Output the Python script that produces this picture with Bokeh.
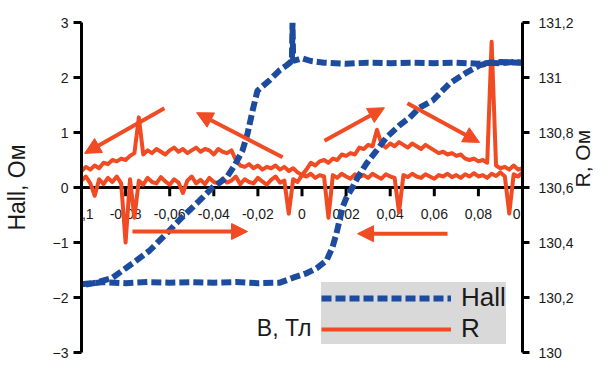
import math
import numpy as np
from bokeh.plotting import figure
from bokeh.models import (Range1d, LinearAxis, FixedTicker, Span, Label, Arrow,
                          NormalHead, ColumnDataSource, Legend, Title)
from bokeh.core.properties import value
from bokeh.embed import file_html
from bokeh.resources import INLINE

# ---------------- data ----------------
# Hall loop: sweep up (-0.1 -> 0.1) and sweep down (0.1 -> -0.1)
hall_up_B = [-0.100, -0.090, -0.080, -0.070, -0.060, -0.050, -0.040, -0.030, -0.020, -0.010,
             -0.004, 0.002, 0.0066, 0.0111, 0.0138, 0.0156, 0.0170, 0.0184, 0.0202, 0.0229,
             0.0252, 0.0293, 0.0338, 0.0383, 0.0442, 0.0488, 0.0533, 0.0592, 0.0669, 0.0746,
             0.0805, 0.0850, 0.0900, 0.0955, 0.100]
hall_up = [-1.76, -1.72, -1.74, -1.72, -1.73, -1.72, -1.73, -1.72, -1.74, -1.73,
           -1.64, -1.56, -1.47, -1.33, -1.09, -0.84, -0.60, -0.36, -0.18, 0.00,
           0.18, 0.44, 0.67, 0.91, 1.13, 1.27, 1.45, 1.58, 1.89, 2.09,
           2.22, 2.27, 2.26, 2.28, 2.27]

hall_down_B = [0.100, 0.090, 0.080, 0.070, 0.060, 0.050, 0.040, 0.030, 0.020, 0.010,
               0.004, 0.000, -0.0040, -0.0043, -0.0046, -0.0070, -0.0102, -0.0147, -0.0202, -0.0224,
               -0.0247, -0.0270, -0.0306, -0.0342, -0.0406, -0.0465, -0.0546, -0.0615, -0.0692, -0.0769,
               -0.0859, -0.0932, -0.100]
hall_down = [2.27, 2.28, 2.25, 2.27, 2.26, 2.27, 2.26, 2.27, 2.25, 2.27,
             2.30, 2.35, 2.30, 3.00, 2.30, 2.22, 2.13, 1.95, 1.76, 1.40,
             0.98, 0.67, 0.40, 0.18, 0.00, -0.24, -0.55, -0.84, -1.15, -1.38,
             -1.64, -1.73, -1.78]

# Resistance, sampled every 0.002 T from -0.1 to 0.1
R_B = np.linspace(-0.1, 0.1, 101)
R_up = [130.625, 130.640, 130.615, 130.570, 130.630, 130.612, 130.635, 130.620, 130.640, 130.615,
        130.400, 130.630, 130.490, 130.625, 130.610, 130.635, 130.620, 130.615, 130.638, 130.622,
        130.610, 130.630, 130.618, 130.580, 130.625, 130.640, 130.615, 130.628, 130.612, 130.635,
        130.620, 130.615, 130.632, 130.618, 130.625, 130.640, 130.612, 130.630, 130.620, 130.615,
        130.635, 130.622, 130.610, 130.628, 130.640, 130.618, 130.625, 130.505, 130.630, 130.620,
        130.645, 130.665, 130.690, 130.680, 130.695, 130.700, 130.690, 130.705, 130.700, 130.720,
        130.715, 130.725, 130.720, 130.745, 130.740, 130.755, 130.750, 130.810, 130.760, 130.745,
        130.760, 130.750, 130.765, 130.755, 130.745, 130.760, 130.750, 130.740, 130.755, 130.745,
        130.735, 130.725, 130.730, 130.720, 130.725, 130.715, 130.720, 130.705, 130.700, 130.705,
        130.695, 130.700, 130.690, 131.130, 130.680, 130.670, 130.675, 130.665, 130.680, 130.665,
        130.670]
R_down = [130.660, 130.675, 130.665, 130.680, 130.670, 130.690, 130.685, 130.700, 130.695, 130.705,
          130.700, 130.715, 130.725, 130.855, 130.720, 130.735, 130.725, 130.740, 130.730, 130.720,
          130.735, 130.745, 130.730, 130.740, 130.725, 130.735, 130.745, 130.730, 130.740, 130.735,
          130.720, 130.740, 130.730, 130.725, 130.735, 130.700, 130.680, 130.675, 130.685, 130.670,
          130.680, 130.665, 130.675, 130.670, 130.680, 130.665, 130.675, 130.660, 130.670, 130.655,
          130.645, 130.640, 130.650, 130.635, 130.645, 130.640, 130.490, 130.645, 130.635, 130.650,
          130.640, 130.632, 130.648, 130.638, 130.645, 130.635, 130.650, 130.640, 130.632, 130.648,
          130.640, 130.635, 130.510, 130.645, 130.638, 130.650, 130.640, 130.635, 130.648, 130.640,
          130.632, 130.645, 130.640, 130.650, 130.638, 130.645, 130.635, 130.648, 130.640, 130.652,
          130.640, 130.645, 130.635, 130.650, 130.642, 130.655, 130.640, 130.505, 130.648, 130.640,
          130.655]

# sweep-direction arrows (B, Hall-axis units)
arr_x0 = [-0.0624, -0.0088, 0.0102, 0.0478, -0.0769, 0.0660]
arr_y0 = [1.44, 0.55, 0.85, 1.53, -0.80, -0.84]
arr_x1 = [-0.0986, -0.0478, 0.0374, 0.0805, -0.0247, 0.0252]
arr_y1 = [0.62, 1.36, 1.45, 0.82, -0.80, -0.84]

x_ticks = [-0.1, -0.08, -0.06, -0.04, -0.02, 0.0, 0.02, 0.04, 0.06, 0.08, 0.1]
x_tick_labels = ["-0,1", "-0,08", "-0,06", "-0,04", "-0,02", "0", "0,02", "0,04", "0,06", "0,08", "0,1"]
hall_ticks = [-3, -2, -1, 0, 1, 2, 3]
r_ticks = [130.0, 130.2, 130.4, 130.6, 130.8, 131.0, 131.2]
r_tick_labels = ["130", "130,2", "130,4", "130,6", "130,8", "131", "131,2"]

# ---------------- style ----------------
BLUE = "#1d4c9e"
RED = "#f04b23"
FONT = "Liberation Sans"
TXT = "#1a1a1a"

p = figure(frame_width=441, frame_height=330, x_range=Range1d(-0.1, 0.1), y_range=Range1d(-3, 3),
           output_backend="svg", toolbar_location=None, x_axis_location=None,
           min_border_left=81, min_border_right=0, min_border_top=22, min_border_bottom=14)
p.outline_line_color = None
p.xgrid.visible = False
p.ygrid.visible = False
p.background_fill_color = "white"

p.extra_y_ranges = {"R": Range1d(130.0, 131.2)}

def style_axis(ax):
    ax.axis_line_width = 3
    ax.axis_line_color = "black"
    ax.major_tick_line_width = 3
    ax.major_tick_line_color = "black"
    ax.major_tick_in = 0
    ax.major_tick_out = 8
    ax.minor_tick_line_color = None
    ax.major_label_text_font = FONT
    ax.major_label_text_font_size = "14px"
    ax.major_label_text_color = TXT
    ax.axis_label_text_font = FONT
    ax.axis_label_text_font_style = "normal"
    ax.axis_label_text_color = TXT

yl = p.yaxis[0]
yl.ticker = FixedTicker(ticks=hall_ticks)
yl.axis_label = "Hall, Ом"
style_axis(yl)
yl.axis_label_text_font_size = "23px"
yl.major_label_standoff = 5
yl.axis_label_standoff = 20

yr = LinearAxis(y_range_name="R", ticker=FixedTicker(ticks=r_ticks))
yr.major_label_overrides = {t: l for t, l in zip(r_ticks, r_tick_labels)}
style_axis(yr)
yr.major_tick_out = 7
yr.major_label_standoff = 9
p.add_layout(yr, "right")

if "axis_label_orientation" in yr.properties():
    yr.axis_label = "R, Ом"
    yr.axis_label_orientation = math.pi / 2
    yr.axis_label_text_font_size = "21px"
    yr.axis_label_standoff = 6
else:
    p.add_layout(Title(text="R, Ом", align="center", text_font=FONT, text_font_size="21px",
                       text_font_style="normal", text_color=TXT), "right")

# central x axis (at Hall = 0)
p.add_layout(Span(location=0, dimension="width", line_color="black", line_width=3, level="underlay"))
p.segment(x0=x_ticks, y0=[0] * len(x_ticks), x1=x_ticks, y1=[-0.16] * len(x_ticks),
          line_color="black", line_width=3)
p.text(x=x_ticks, y=[0] * len(x_ticks), text=x_tick_labels, y_offset=26,
       text_align="center", text_baseline="middle", text_font=value(FONT),
       text_font_size="14px", text_color=TXT)

# data
r_up = p.line(R_B, R_up, y_range_name="R", line_color=RED, line_width=4, line_join="round")
r_dn = p.line(R_B, R_down, y_range_name="R", line_color=RED, line_width=4, line_join="round")
h_up = p.line(hall_up_B, hall_up, line_color=BLUE, line_width=6, line_dash="10 4")
h_dn = p.line(hall_down_B, hall_down, line_color=BLUE, line_width=6, line_dash="10 4")

arrow_src = ColumnDataSource(dict(x0=arr_x0, y0=arr_y0, x1=arr_x1, y1=arr_y1))
p.add_layout(Arrow(source=arrow_src, x_start="x0", y_start="y0", x_end="x1", y_end="y1",
                   line_color=RED, line_width=4,
                   end=NormalHead(size=16, fill_color=RED, line_color=RED)))

p.add_layout(Label(x=-0.0205, y=-2.56, text="B, Тл", text_font=FONT, text_font_size="23px",
                   text_color=TXT, text_baseline="middle"))

legend = Legend(items=[("Hall", [h_up]), ("R", [r_up])], location=(240, 8),
                background_fill_color="#d9d9d9", background_fill_alpha=1.0,
                border_line_color=None, glyph_width=130, glyph_height=24,
                label_text_font=FONT, label_text_font_size="26px", label_text_color=TXT,
                label_standoff=10, padding=9, spacing=0, margin=0)
p.add_layout(legend)

open("out.html", "w").write(file_html(p, INLINE))
